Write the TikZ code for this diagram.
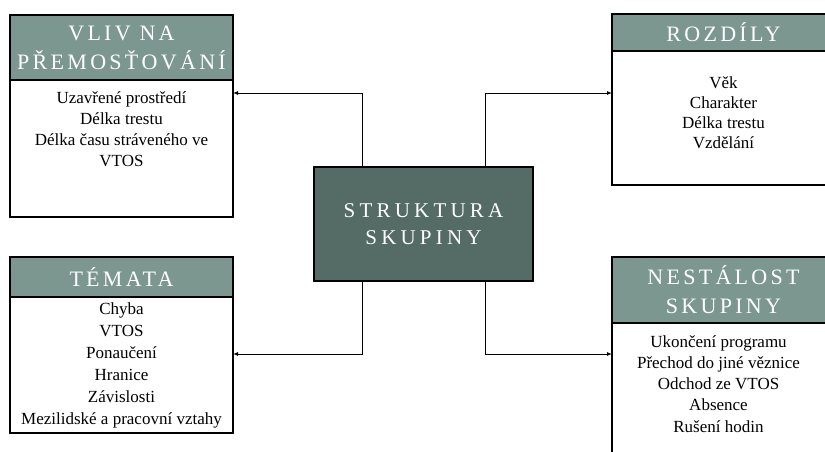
\documentclass[tikz,border=0pt]{standalone}
\usepackage{fontspec}
\setmainfont{Liberation Serif}
\newfontfamily\hlavafont[LetterSpace=15]{Liberation Serif}
\usetikzlibrary{arrows.meta, positioning}
\definecolor{hlavazelena}{RGB}{124,151,143}
\definecolor{tmavazelena}{RGB}{84,107,102}

\begin{document}
\begin{tikzpicture}[x=1pt, y=-1pt,
  every node/.style={font=\fontsize{17}{21}\selectfont},
  hlava/.style={draw, line width=1.2pt, fill=hlavazelena, text=white, anchor=north west,
    minimum width=223pt, inner sep=0pt, outer sep=0pt, align=center,
    font=\hlavafont\fontsize{22}{29}\selectfont},
  telo/.style={draw, line width=1.2pt, fill=white, anchor=north, minimum width=223pt,
    inner sep=0pt, outer sep=0pt},
  obsah/.style={anchor=north, align=center, inner sep=0pt},
  spoj/.style={-{Latex[length=5pt,width=4pt]}, line width=0.9pt}]
  \useasboundingbox (0,0) rectangle (825,452);
  \clip (0,0) rectangle (825,452);

  % central box
  \node[draw, line width=1.2pt, fill=tmavazelena, text=white, minimum width=219pt,
    minimum height=114pt, inner sep=0pt, align=center,
    font={\fontspec{Liberation Serif}[LetterSpace=20]\fontsize{21}{27}\selectfont}]
    (jadro) at (423.5,224) {STRUKTURA\\SKUPINY};

  % Vliv na premostovani
  \node[hlava, minimum height=65pt] (prem) at (10,15) {VLIV NA\\PŘEMOSŤOVÁNÍ};
  \node[telo, minimum height=137pt, below=0pt of prem] (prem-telo) {};
  \node[obsah, below=11pt of prem-telo.north] (prem-text)
    {Uzavřené prostředí\\Délka trestu\\Délka času stráveného ve\\VTOS};

  % Rozdily
  \node[hlava, minimum height=37pt] (rozd) at (612,14) {ROZDÍLY};
  \node[telo, minimum height=134pt, below=0pt of rozd] (rozd-telo) {};
  \node[obsah, font=\fontsize{17}{20}\selectfont, below=25pt of rozd-telo.north] (rozd-text)
    {Věk\\Charakter\\Délka trestu\\Vzdělání};

  % Temata
  \node[hlava, minimum height=40pt] (tema) at (10,257) {TÉMATA};
  \node[telo, minimum height=136pt, below=0pt of tema] (tema-telo) {};
  \node[obsah, font=\fontsize{17}{22}\selectfont, below=6pt of tema-telo.north] (tema-text)
    {Chyba\\VTOS\\Ponaučení\\Hranice\\Závislosti\\Mezilidské a pracovní vztahy};

  % Nestalost skupiny
  \node[hlava, minimum height=66pt] (nest) at (612,257) {NESTÁLOST\\SKUPINY};
  \node[telo, minimum height=150pt, below=0pt of nest] (nest-telo) {};
  \node[obsah, font=\fontsize{17}{21.3}\selectfont, below=12pt of nest-telo.north, xshift=-5pt] (nest-text)
    {Ukončení programu\\Přechod do jiné věznice\\Odchod ze VTOS\\Absence\\Rušení hodin};

  % connectors
  \draw[spoj] ([xshift=49pt]jadro.north west) |- ([yshift=-13pt]prem-telo.north east);
  \draw[spoj] ([xshift=-48pt]jadro.north east) |- ([yshift=-42pt]rozd-telo.north west);
  \draw[spoj] ([xshift=49pt]jadro.south west) |- ([yshift=-57pt]tema-telo.north east);
  \draw[spoj] ([xshift=-48pt]jadro.south east) |- ([yshift=-31pt]nest-telo.north west);
\end{tikzpicture}
\end{document}
